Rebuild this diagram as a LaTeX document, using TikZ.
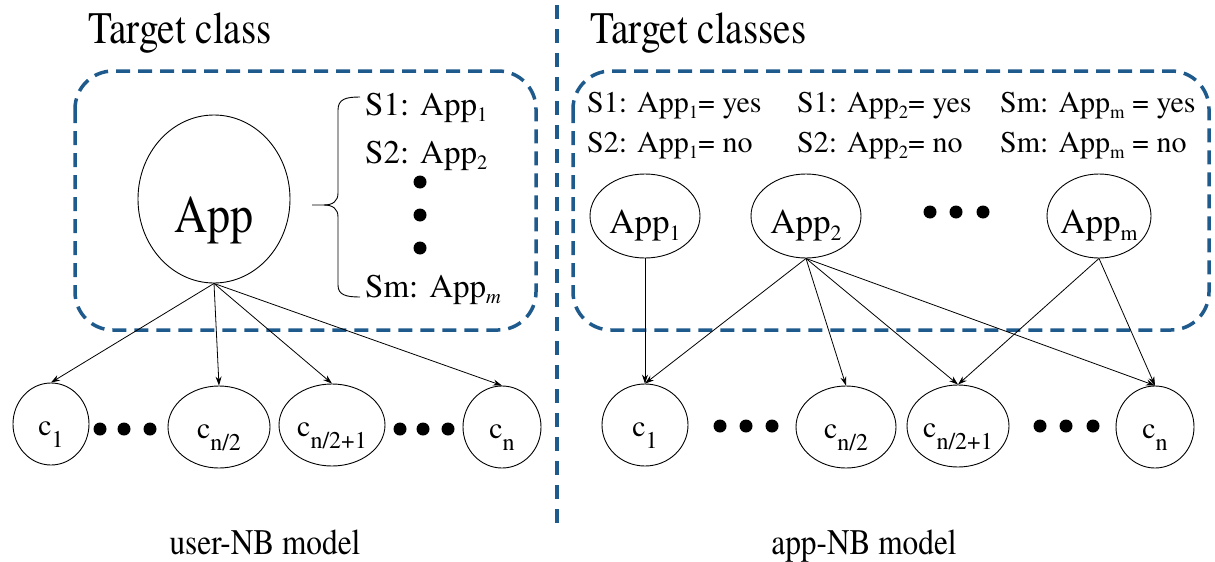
\documentclass[tikz,border=0pt]{standalone}
\usepackage{fontspec}
\setmainfont{texgyretermes}[Extension=.otf, UprightFont=*-regular, ItalicFont=*-italic, BoldFont=*-bold]
\newfontfamily\condf{texgyretermes}[Extension=.otf, UprightFont=*-regular, FakeStretch=0.87]
\usetikzlibrary{shapes.geometric,arrows.meta}
\definecolor{dblue}{HTML}{1F5A8C}
\newcommand\sbs[1]{\raisebox{-.2em}{\scalebox{.62}{#1}}}
\newcommand\csb[1]{\raisebox{-.4em}{\scalebox{.8}{#1}}}
\newcommand\fsz[1]{\fontsize{#1}{#1}\selectfont}
\begin{document}
\begin{tikzpicture}[x=1pt,y=-1pt,
  ell/.style={draw, ellipse, line width=0.9pt, inner sep=0pt},
  lab/.style={anchor=base, inner sep=0pt},
  arr/.style={-{Stealth[length=9pt,width=6pt]}, line width=0.8pt},
  dot/.style={circle, fill, inner sep=0pt, minimum size=13pt},
  dbox/.style={draw=dblue, line width=3.5pt, dash pattern=on 14pt off 8pt, rounded corners=38pt},
  vline/.style={draw=dblue, line width=3.2pt, dash pattern=on 14pt off 10pt},
  txt/.style={anchor=base west, inner sep=0pt},
  ttl/.style={anchor=base west, inner sep=0pt, font=\condf\fsz{45}},
  captxt/.style={anchor=base, inner sep=0pt, font=\condf\fsz{36}},
  cnode/.style={ell, minimum height=82pt},
  anode/.style={ell, minimum height=84pt},
]
\useasboundingbox (0,0) rectangle (1215,562);

% separators and boxes
\coordinate (vt) at (557,5);
\coordinate (vb) at (557,525);
\draw[vline] (vt) -- (vb);
\draw[dbox] (75,71) rectangle (536,330);
\draw[dbox] (573,71) rectangle (1209,330);

% titles
\node[ttl] (t1) at (88,43) {Target class};
\node[ttl] (t2) at (590,43) {Target classes};

% ---------------- left: user-NB ----------------
\node[ell, minimum width=152pt, minimum height=168pt,
      label={[lab,yshift=-21pt]center:{\condf\fsz{53}App}}] (App) at (214,199) {};

\draw[line width=0.9pt] (360,97) .. controls (346,97) and (338,99) .. (338,110) -- (338,193)
   .. controls (338,201) and (333,205) .. (324,205) -- (312,205);
\draw[line width=0.9pt] (324,205) .. controls (333,205) and (338,209) .. (338,217) -- (338,285)
   .. controls (338,295) and (346,297) .. (360,297);

\node[txt, font=\fsz{33}] (s1) at (365,115) {S1: App\sbs{1}};
\node[txt, font=\fsz{33}] (s2) at (365,163) {S2: App\sbs{2}};
\node[txt, font=\fsz{33}] (sm) at (365,297) {Sm: App\sbs{\textit{m}}};
\node[dot] (ld1) at (420,182) {};
\node[dot] (ld2) at (420,215) {};
\node[dot] (ld3) at (420,248) {};

\node[cnode, minimum width=76pt, label={[lab,yshift=-11pt]center:{\fsz{30}c\csb{1}}}] (c1L) at (51,424) {};
\node[cnode, minimum width=102pt, label={[lab,yshift=-11pt]center:{\fsz{30}c\csb{n/2}}}] (cn2L) at (219,427) {};
\node[cnode, minimum width=106pt, label={[lab,yshift=-11pt]center:{\fsz{30}c\csb{n/2+1}}}] (cn21L) at (332,425) {};
\node[cnode, minimum width=78pt, label={[lab,yshift=-11pt]center:{\fsz{30}c\csb{n}}}] (cnL) at (502,427) {};

\node[dot] (bd1) at (100,429) {};
\node[dot] (bd2) at (124,429) {};
\node[dot] (bd3) at (150,429) {};
\node[dot] (bd4) at (400,429) {};
\node[dot] (bd5) at (423,429) {};
\node[dot] (bd6) at (448,429) {};

\draw[arr] (App.south) -- (c1L.north);
\draw[arr] (App.south) -- (cn2L.north);
\draw[arr] (App.south) -- (cn21L.north);
\draw[arr] (App.south) -- (cnL.north);

\node[captxt] (m1) at (265,554) {user-NB model};

% ---------------- right: app-NB ----------------
\node[txt, font=\fsz{30}] (r11) at (587,112) {S1: App\sbs{1}= yes};
\node[txt, font=\fsz{30}] (r12) at (587,152) {S2: App\sbs{1}= no};
\node[txt, font=\fsz{30}] (r21) at (797,112) {S1: App\sbs{2}= yes};
\node[txt, font=\fsz{30}] (r22) at (797,152) {S2: App\sbs{2}= no};
\node[txt, font=\fsz{30}] (r31) at (1000,112) {Sm: App\sbs{m} = yes};
\node[txt, font=\fsz{30}] (r32) at (1000,152) {Sm: App\sbs{m} = no};

\node[anode, minimum width=110pt, label={[lab,yshift=-9pt]center:{\fsz{35}App\sbs{1}}}] (A1) at (645,216) {};
\node[anode, minimum width=110pt, label={[lab,yshift=-9pt]center:{\fsz{35}App\sbs{2}}}] (A2) at (806,216) {};
\node[anode, minimum width=104pt, label={[lab,yshift=-9pt]center:{\fsz{35}App\sbs{m}}}] (Am) at (1099,216) {};
\node[dot] (td1) at (930,212) {};
\node[dot] (td2) at (956,212) {};
\node[dot] (td3) at (983,212) {};

\node[cnode, minimum width=86pt, label={[lab,yshift=-11pt]center:{\fsz{30}c\csb{1}}}] (c1R) at (645,425) {};
\node[cnode, minimum width=100pt, label={[lab,yshift=-11pt]center:{\fsz{30}c\csb{n/2}}}] (cn2R) at (846,427) {};
\node[cnode, minimum width=102pt, label={[lab,yshift=-11pt]center:{\fsz{30}c\csb{n/2+1}}}] (cn21R) at (958,426) {};
\node[cnode, minimum width=78pt, label={[lab,yshift=-11pt]center:{\fsz{30}c\csb{n}}}] (cnR) at (1155,427) {};

\node[dot] (rd1) at (720,426) {};
\node[dot] (rd2) at (746,426) {};
\node[dot] (rd3) at (772,426) {};
\node[dot] (rd4) at (1040,426) {};
\node[dot] (rd5) at (1066,426) {};
\node[dot] (rd6) at (1093,426) {};

\draw[arr] (A1.south) -- (c1R.north);
\draw[arr] (A2.south) -- (c1R.north);
\draw[arr] (A2.south) -- (cn2R.north);
\draw[arr] (A2.south) -- (cn21R.north);
\draw[arr] (A2.south) -- (cnR.north);
\draw[arr] (Am.south) -- (cn21R.north);
\draw[arr] (Am.south) -- (cnR.north);

\node[captxt] (m2) at (864,554) {app-NB model};
\end{tikzpicture}
\end{document}
